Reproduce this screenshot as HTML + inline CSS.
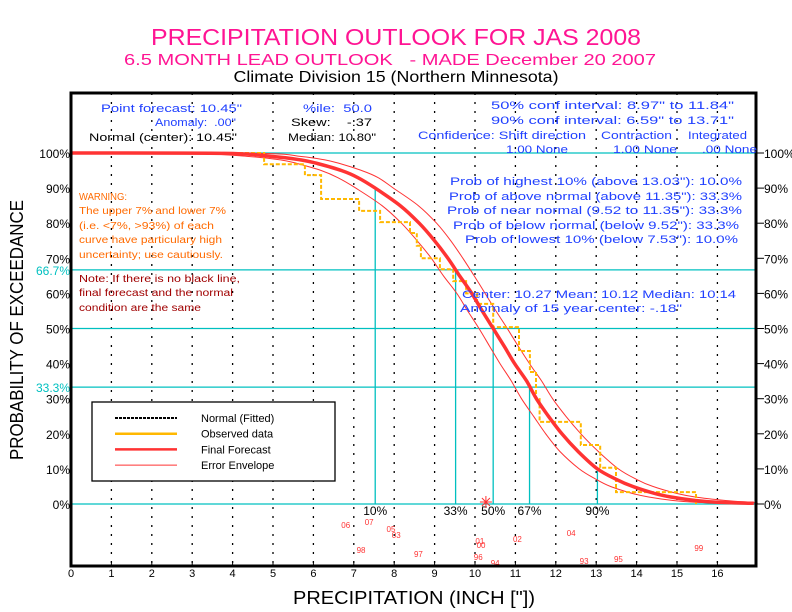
<!DOCTYPE html>
<html><head><meta charset="utf-8"><style>
html,body{margin:0;padding:0;background:#fff;}
svg{display:block;font-family:"Liberation Sans",sans-serif;}
svg text{white-space:pre;}
</style></head><body>
<svg id="chart" width="792" height="612" xmlns="http://www.w3.org/2000/svg">
<rect x="0" y="0" width="792" height="612" fill="#fff"/>
<g id="titles">
<text x="396" y="45" text-anchor="middle" font-size="23" fill="#ff1493" textLength="490" lengthAdjust="spacingAndGlyphs">PRECIPITATION OUTLOOK FOR JAS 2008</text>
<text x="390" y="65" text-anchor="middle" font-size="16" fill="#ff1493" textLength="532" lengthAdjust="spacingAndGlyphs">6.5 MONTH LEAD OUTLOOK   - MADE December 20 2007</text>
<text x="396" y="82" text-anchor="middle" font-size="16" fill="#000" textLength="325" lengthAdjust="spacingAndGlyphs">Climate Division 15 (Northern Minnesota)</text>
</g>
<g id="plot"></g>
</svg>
<script>
// ---- data ----
const xTicks = [0,1,2,3,4,5,6,7,8,9,10,11,12,13,14,15,16];
const yTicks = [0,10,20,30,40,50,60,70,80,90,100];
const forecastProb = [100,99.9,99,98,97,95,93,90,85,80,75,70,65,60,55,50,45,40,35,30,25,20,15,10,7,5,3,2,1,0.5,0.2];
const forecastPrecip = [0,3.8,5.0,5.7,6.1,6.7,7.1,7.53,8.15,8.62,9.0,9.33,9.62,9.92,10.18,10.45,10.72,10.98,11.28,11.52,11.82,12.15,12.55,13.03,13.5,13.9,14.45,14.85,15.45,16.0,16.9];
const upperEnvPrecip = [0,4.6,5.7,6.3,6.65,7.2,7.6,7.98,8.6,9.05,9.4,9.7,9.98,10.25,10.52,10.8,11.07,11.35,11.65,11.92,12.25,12.62,13.05,13.55,14.0,14.4,15.0,15.45,16.2,16.8,17.0];
const lowerEnvPrecip = [0,3.0,4.4,5.2,5.6,6.2,6.6,7.05,7.7,8.18,8.57,8.92,9.22,9.55,9.82,10.1,10.36,10.62,10.9,11.15,11.45,11.75,12.1,12.58,13.0,13.35,13.9,14.3,14.9,15.45,16.3];
const obsStepPrecip = [4.78, 5.79, 6.19, 7.13, 7.65, 8.39, 8.56, 8.66, 9.13, 9.46, 9.78, 10.05, 10.45, 11.09, 11.36, 11.51, 11.60, 12.62, 13.10, 13.49, 15.47];
const obsStepLevel = [96.8, 93.7, 86.9, 83.5, 80.3, 77.2, 73.6, 70.0, 66.9, 63.5, 60.0, 57.0, 50.4, 43.6, 37.6, 29.9, 23.4, 16.8, 10.3, 3.4, 0];
const quantileLabels = ["10%","33%","50%","67%","90%"];
const quantileProb = [90, 67, 50, 33, 10];
const quantilePrecip = [7.53, 9.52, 10.45, 11.35, 13.03];
const yearLabels = ["06","07","05","03","98","97","01","00","96","94","02","04","93","95","99"];
const yearPrecip = [6.8, 7.38, 7.92, 8.05, 7.18, 8.6, 10.12, 10.15, 10.08, 10.5, 11.05, 12.38, 12.7, 13.55, 15.54];
const yearRow = [0.5, 0.2, 0.9, 1.5, 3.0, 3.4, 2.1, 2.5, 3.7, 4.3, 1.9, 1.3, 4.1, 3.9, 2.8];
// ---- axes ----
const X0=71, PX=40.4, Y0=504, PY=3.51;
const xs = v => X0 + v*PX;
const ys = p => Y0 - p*PY;
const svg = document.getElementById('plot');
const NS='http://www.w3.org/2000/svg';
function mk(tag, attrs, txt){const e=document.createElementNS(NS,tag);for(const k in attrs)e.setAttribute(k,attrs[k]);if(txt!==undefined)e.textContent=txt;svg.appendChild(e);return e;}
const L=71, R=756, T=93, B=566;
xTicks.forEach(v=>{ if(v>0){ const g=mk('line',{x1:xs(v),x2:xs(v),y1:T,y2:B,stroke:'#000','stroke-width':1.3,'stroke-dasharray':'2,7'});

}});
[100,66.7,50,33.3,0].forEach(p=>{const h=mk('line',{x1:L,x2:R,y1:ys(p),y2:ys(p),stroke:'#00c0c0','stroke-width':1.3});

});
quantilePrecip.forEach((v,i)=>{const q=mk('line',{x1:xs(v),x2:xs(v),y1:ys(0),y2:ys(quantileProb[i]),stroke:'#00c0c0','stroke-width':1.3});


const t=mk('text',{x:xs(v),y:515,'text-anchor':'middle','font-size':12,fill:'#000'},quantileLabels[i]);

});
function pathFrom(px, pr){
  const P=px.map((v,i)=>[xs(v),ys(pr[i])]);
  let d='M'+P[0][0].toFixed(1)+','+P[0][1].toFixed(1);
  for(let i=0;i<P.length-1;i++){
    const p0=P[Math.max(i-1,0)],p1=P[i],p2=P[i+1],p3=P[Math.min(i+2,P.length-1)];
    const c1=[p1[0]+(p2[0]-p0[0])/6,p1[1]+(p2[1]-p0[1])/6];
    const c2=[p2[0]-(p3[0]-p1[0])/6,p2[1]-(p3[1]-p1[1])/6];
    d+=' C'+c1[0].toFixed(1)+','+c1[1].toFixed(1)+' '+c2[0].toFixed(1)+','+c2[1].toFixed(1)+' '+p2[0].toFixed(1)+','+p2[1].toFixed(1);
  }
  return d;
}
const up=mk('path',{d:pathFrom(upperEnvPrecip,forecastProb),fill:'none',stroke:'#ff3333','stroke-width':1});


const lo=mk('path',{d:pathFrom(lowerEnvPrecip,forecastProb),fill:'none',stroke:'#ff3333','stroke-width':1});


let d='M'+xs(0)+','+ys(100); let lev=100;
obsStepPrecip.forEach((v,i)=>{d+=' L'+xs(v).toFixed(1)+','+ys(lev).toFixed(1)+' L'+xs(v).toFixed(1)+','+ys(obsStepLevel[i]).toFixed(1); lev=obsStepLevel[i];});
const ob=mk('path',{d:d,fill:'none',stroke:'#ffb800','stroke-width':2,'stroke-dasharray':'4,2'});


const fc=mk('path',{d:pathFrom(forecastPrecip,forecastProb),fill:'none',stroke:'#ff3333','stroke-width':3.5});


const ax=xs(10.27), ay=ys(0)-2;
const ast=mk('path',{d:`M${ax-6},${ay} L${ax+6},${ay} M${ax},${ay-6} L${ax},${ay+6} M${ax-4},${ay-4} L${ax+4},${ay+4} M${ax-4},${ay+4} L${ax+4},${ay-4}`,stroke:'#ff3333','stroke-width':1});


yearLabels.forEach((s,i)=>{const t=mk('text',{x:xs(yearPrecip[i]),y:523+yearRow[i]*10,'text-anchor':'middle','font-size':8,fill:'#ff3333'},s);

});
const fr=mk('rect',{x:L,y:T,width:R-L,height:B-T,fill:'none',stroke:'#000','stroke-width':3});


xTicks.forEach(v=>{const t=mk('text',{x:xs(v),y:577,'text-anchor':'middle','font-size':11,fill:'#000'},String(v));


const tk=mk('line',{x1:xs(v),x2:xs(v),y1:B-5,y2:B,stroke:'#000'});

});
yTicks.forEach(p=>{const t=mk('text',{x:70,y:ys(p)+5,'text-anchor':'end','font-size':12,fill:'#000'},p+'%');


const t2=mk('text',{x:764,y:ys(p)+5,'text-anchor':'start','font-size':12,fill:'#000'},p+'%');


const tk=mk('line',{x1:756,x2:764,y1:ys(p),y2:ys(p),stroke:'#000'});

});
[[66.7,'66.7%'],[33.3,'33.3%']].forEach(a=>{const t=mk('text',{x:70,y:ys(a[0])+5,'text-anchor':'end','font-size':12,fill:'#00c0c0'},a[1]);

});
const xt=mk('text',{x:414,y:604,'text-anchor':'middle','font-size':18,fill:'#000',textLength:242,lengthAdjust:'spacingAndGlyphs'},'PRECIPITATION (INCH ["])');


const yt=mk('text',{x:0,y:0,'text-anchor':'middle','font-size':18,fill:'#000',transform:'translate(23,330) rotate(-90)',textLength:260,lengthAdjust:'spacingAndGlyphs'},'PROBABILITY OF EXCEEDANCE');


function txt(name,x,y,s,col,w,size){const t=mk('text',{x:x,y:y,'font-size':size||11,fill:col},s); if(w){t.setAttribute('textLength',w);t.setAttribute('lengthAdjust','spacingAndGlyphs');}

return t;}
const blue='#2040ff';
txt('point-forecast',101,112,'Point forecast: 10.45"',blue,141);
txt('anomaly',155,126,'Anomaly:  .00"',blue,81);
txt('normal-center',89,141,'Normal (center): 10.45"','#000',148);
txt('percentile',303,112,'%ile:  50.0',blue,69);
txt('skew',291,126,'Skew:    -.37','#000',81);
txt('median',288,141,'Median: 10.80"','#000',88);
txt('conf-50',491,109,'50% conf interval: 8.97" to 11.84"',blue,243);
txt('conf-90',491,124,'90% conf interval: 6.59" to 13.71"',blue,243);
txt('confidence-header',418,139,'Confidence: Shift direction',blue,168);
txt('confidence-contraction',601,139,'Contraction',blue,71);
txt('confidence-integrated',688,139,'Integrated',blue,59);
txt('confidence-shift-value',506,153,'1.00 None',blue,62);
txt('confidence-contraction-value',613,153,'1.00 None',blue,64);
txt('confidence-integrated-value',702,153,'.00 None',blue,55);
txt('prob-highest',450,185,'Prob of highest 10% (above 13.03"): 10.0%',blue,292);
txt('prob-above',449,200,'Prob of above normal (above 11.35"): 33.3%',blue,293);
txt('prob-near',447,214,'Prob of near normal (9.52 to 11.35"): 33.3%',blue,295);
txt('prob-below',453,229,'Prob of below normal (below 9.52"): 33.3%',blue,286);
txt('prob-lowest',465,243,'Prob of lowest 10% (below 7.53"): 10.0%',blue,273);
txt('center-mean-median',462,298,'Center: 10.27 Mean: 10.12 Median: 10.14',blue,274);
txt('anomaly-15yr',460,312,'Anomaly of 15 year center: -.18"',blue,222);
const org='#ff6a00';
txt('warning-1',79,200,'WARNING:',org,48,10);
txt('warning-2',79,214,'The upper 7% and lower 7%',org,147,10);
txt('warning-3',79,229,'(i.e. <7%, >93%) of each',org,135,10);
txt('warning-4',79,243,'curve have particulary high',org,143,10);
txt('warning-5',79,258,'uncertainty; use cautiously.',org,144,10);
const dr='#a00000';
txt('note-1',79,282,'Note: If there is no black line,',dr,161,10);
txt('note-2',79,296,'final forecast and the normal',dr,154,10);
txt('note-3',79,311,'condition are the same',dr,122,10);
const lg=mk('rect',{x:92,y:402,width:243,height:79,fill:'#fff',stroke:'#000','stroke-width':1.3});


const legNames=['Normal (Fitted)','Observed data','Final Forecast','Error Envelope'];
const legCol=['#000','#ffb800','#ff3333','#ff3333'];
const legW=[2,2.5,2.5,1];
legNames.forEach((n,i)=>{const yy=418+i*15.7;
const l=mk('line',{x1:115,x2:177,y1:yy,y2:yy,stroke:legCol[i],'stroke-width':legW[i]});
if(i===0)l.setAttribute('stroke-dasharray','3,1');


const t=mk('text',{x:201,y:yy+4,'font-size':11,fill:'#000'},n);

});
</script>
</body></html>
